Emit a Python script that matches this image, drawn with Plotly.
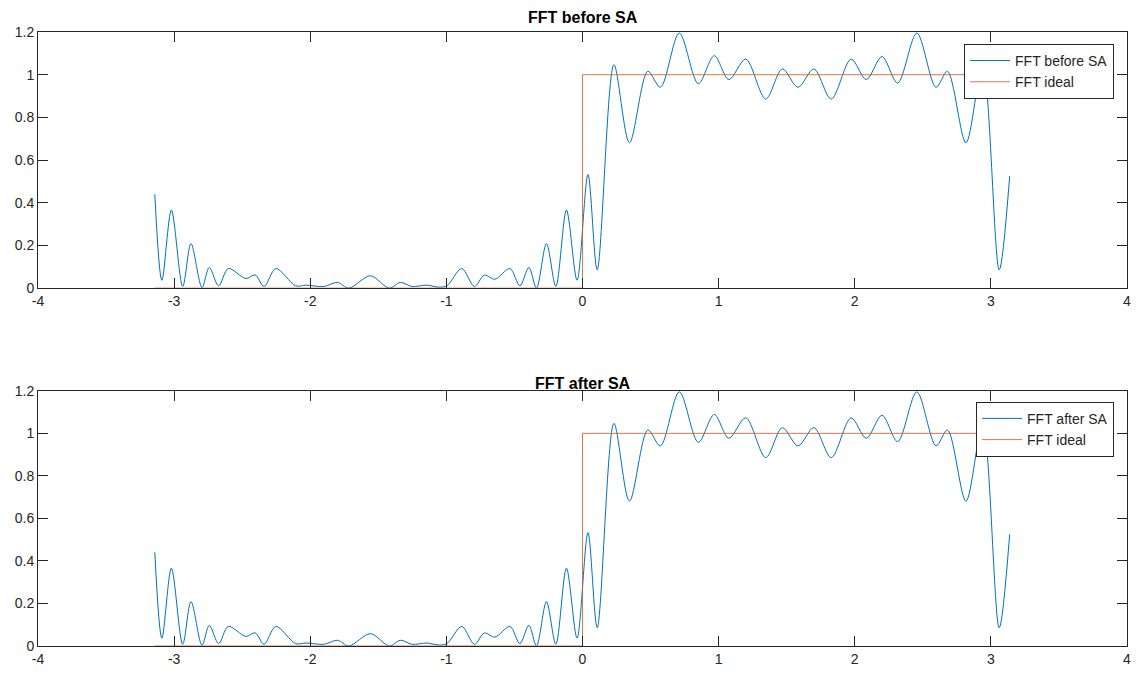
import plotly.graph_objects as go
import math

# ---- data ----
freq = [-3.142, -3.09, -3.02, -2.937, -2.876, -2.795, -2.742, -2.673, -2.602, -2.473,
        -2.405, -2.339, -2.253, -2.107, -2.03, -1.90, -1.80, -1.717, -1.558, -1.419,
        -1.338, -1.253, -1.143, -1.058, -0.997, -0.887, -0.794, -0.721, -0.643, -0.533,
        -0.46, -0.394, -0.338, -0.265, -0.196, -0.118, -0.04, 0.040, 0.108, 0.231,
        0.345, 0.48, 0.572, 0.711, 0.851, 0.968, 1.075, 1.199, 1.346, 1.468,
        1.583, 1.70, 1.827, 1.973, 2.085, 2.20, 2.315, 2.456, 2.597, 2.681,
        2.817, 2.939, 3.061, 3.138]
fft_before = [0.44, 0.037, 0.366, 0.008, 0.209, 0.003, 0.097, 0.011, 0.092, 0.045,
              0.062, 0.008, 0.092, 0.011, 0.014, 0.008, 0.027, 0.0, 0.058, 0.0,
              0.027, 0.008, 0.014, 0.005, 0.011, 0.092, 0.008, 0.061, 0.042, 0.092,
              0.011, 0.097, 0.0, 0.209, 0.008, 0.366, 0.037, 0.533, 0.086, 1.047,
              0.681, 1.016, 0.941, 1.195, 0.958, 1.089, 0.977, 1.073, 0.886, 1.027,
              0.941, 1.027, 0.886, 1.073, 0.977, 1.085, 0.961, 1.195, 0.941, 1.016,
              0.681, 1.047, 0.086, 0.525]
fft_after = list(fft_before)
ideal_x = [-math.pi, 0.0, 0.0, math.pi]
ideal_y = [0.0, 0.0, 1.0, 1.0]

titles = ["FFT before SA", "FFT after SA"]
names = ["FFT before SA", "FFT after SA"]
x_ticks = [-4, -3, -2, -1, 0, 1, 2, 3, 4]
x_tick_text = ["-4", "-3", "-2", "-1", "0", "1", "2", "3", "4"]
y_ticks = [0, 0.2, 0.4, 0.6, 0.8, 1.0, 1.2]
y_tick_text = ["0", "0.2", "0.4", "0.6", "0.8", "1", "1.2"]

BLUE = "#0072BD"
RED = "#D95319"
AX = "#262626"
FONT = "Liberation Sans, Arial, sans-serif"

W, H = 1140, 676
ML, MR, MT, MB = 38, 9, 32, 28
ph = H - MT - MB

def py(pix):
    return (H - MB - pix) / ph

fig = go.Figure()
series = [fft_before, fft_after]
for i in range(2):
    xa = "x" if i == 0 else "x2"
    ya = "y" if i == 0 else "y2"
    lg = "legend" if i == 0 else "legend2"
    fig.add_trace(go.Scatter(x=freq, y=series[i], mode="lines", name=names[i],
                             line=dict(color=BLUE, width=1.0, shape="spline", smoothing=0.9),
                             xaxis=xa, yaxis=ya, legend=lg))
    fig.add_trace(go.Scatter(x=ideal_x, y=ideal_y, mode="lines", name="FFT ideal",
                             line=dict(color=RED, width=0.8),
                             xaxis=xa, yaxis=ya, legend=lg))

axis_common = dict(showgrid=False, zeroline=False, showline=True, linecolor=AX, linewidth=1,
                   mirror="ticks", ticks="inside", ticklen=10, tickcolor=AX, tickwidth=1,
                   tickfont=dict(family=FONT, size=14, color=AX))

top_dom = [py(289), py(32)]
bot_dom = [py(648), py(392)]

leg_common = dict(xanchor="right", yanchor="top", bgcolor="white", bordercolor=AX,
                  borderwidth=1, font=dict(family=FONT, size=14, color=AX),
                  tracegroupgap=0, itemwidth=40)

fig.update_layout(
    width=W, height=H,
    margin=dict(l=ML, r=MR, t=MT, b=MB),
    paper_bgcolor="white", plot_bgcolor="white",
    xaxis=dict(range=[-4, 4], tickvals=x_ticks, ticktext=x_tick_text, anchor="y", **axis_common),
    yaxis=dict(range=[0, 1.2], tickvals=y_ticks, ticktext=y_tick_text, domain=top_dom, anchor="x", **axis_common),
    xaxis2=dict(range=[-4, 4], tickvals=x_ticks, ticktext=x_tick_text, anchor="y2", **axis_common),
    yaxis2=dict(range=[0, 1.2], tickvals=y_ticks, ticktext=y_tick_text, domain=bot_dom, anchor="x2", **axis_common),
    legend=dict(x=(1118 - ML) / (W - ML - MR), y=py(44), **leg_common),
    legend2=dict(x=(1118 - ML) / (W - ML - MR), y=py(403), **leg_common),
    showlegend=True,
)

for i, ypix in enumerate([17, 385]):
    fig.add_annotation(text="<b>" + titles[i] + "</b>", xref="paper", yref="paper",
                       x=0.5, y=py(ypix), xanchor="center", yanchor="middle", showarrow=False,
                       font=dict(family=FONT, size=16, color="black"))

fig.write_html("out.html")
